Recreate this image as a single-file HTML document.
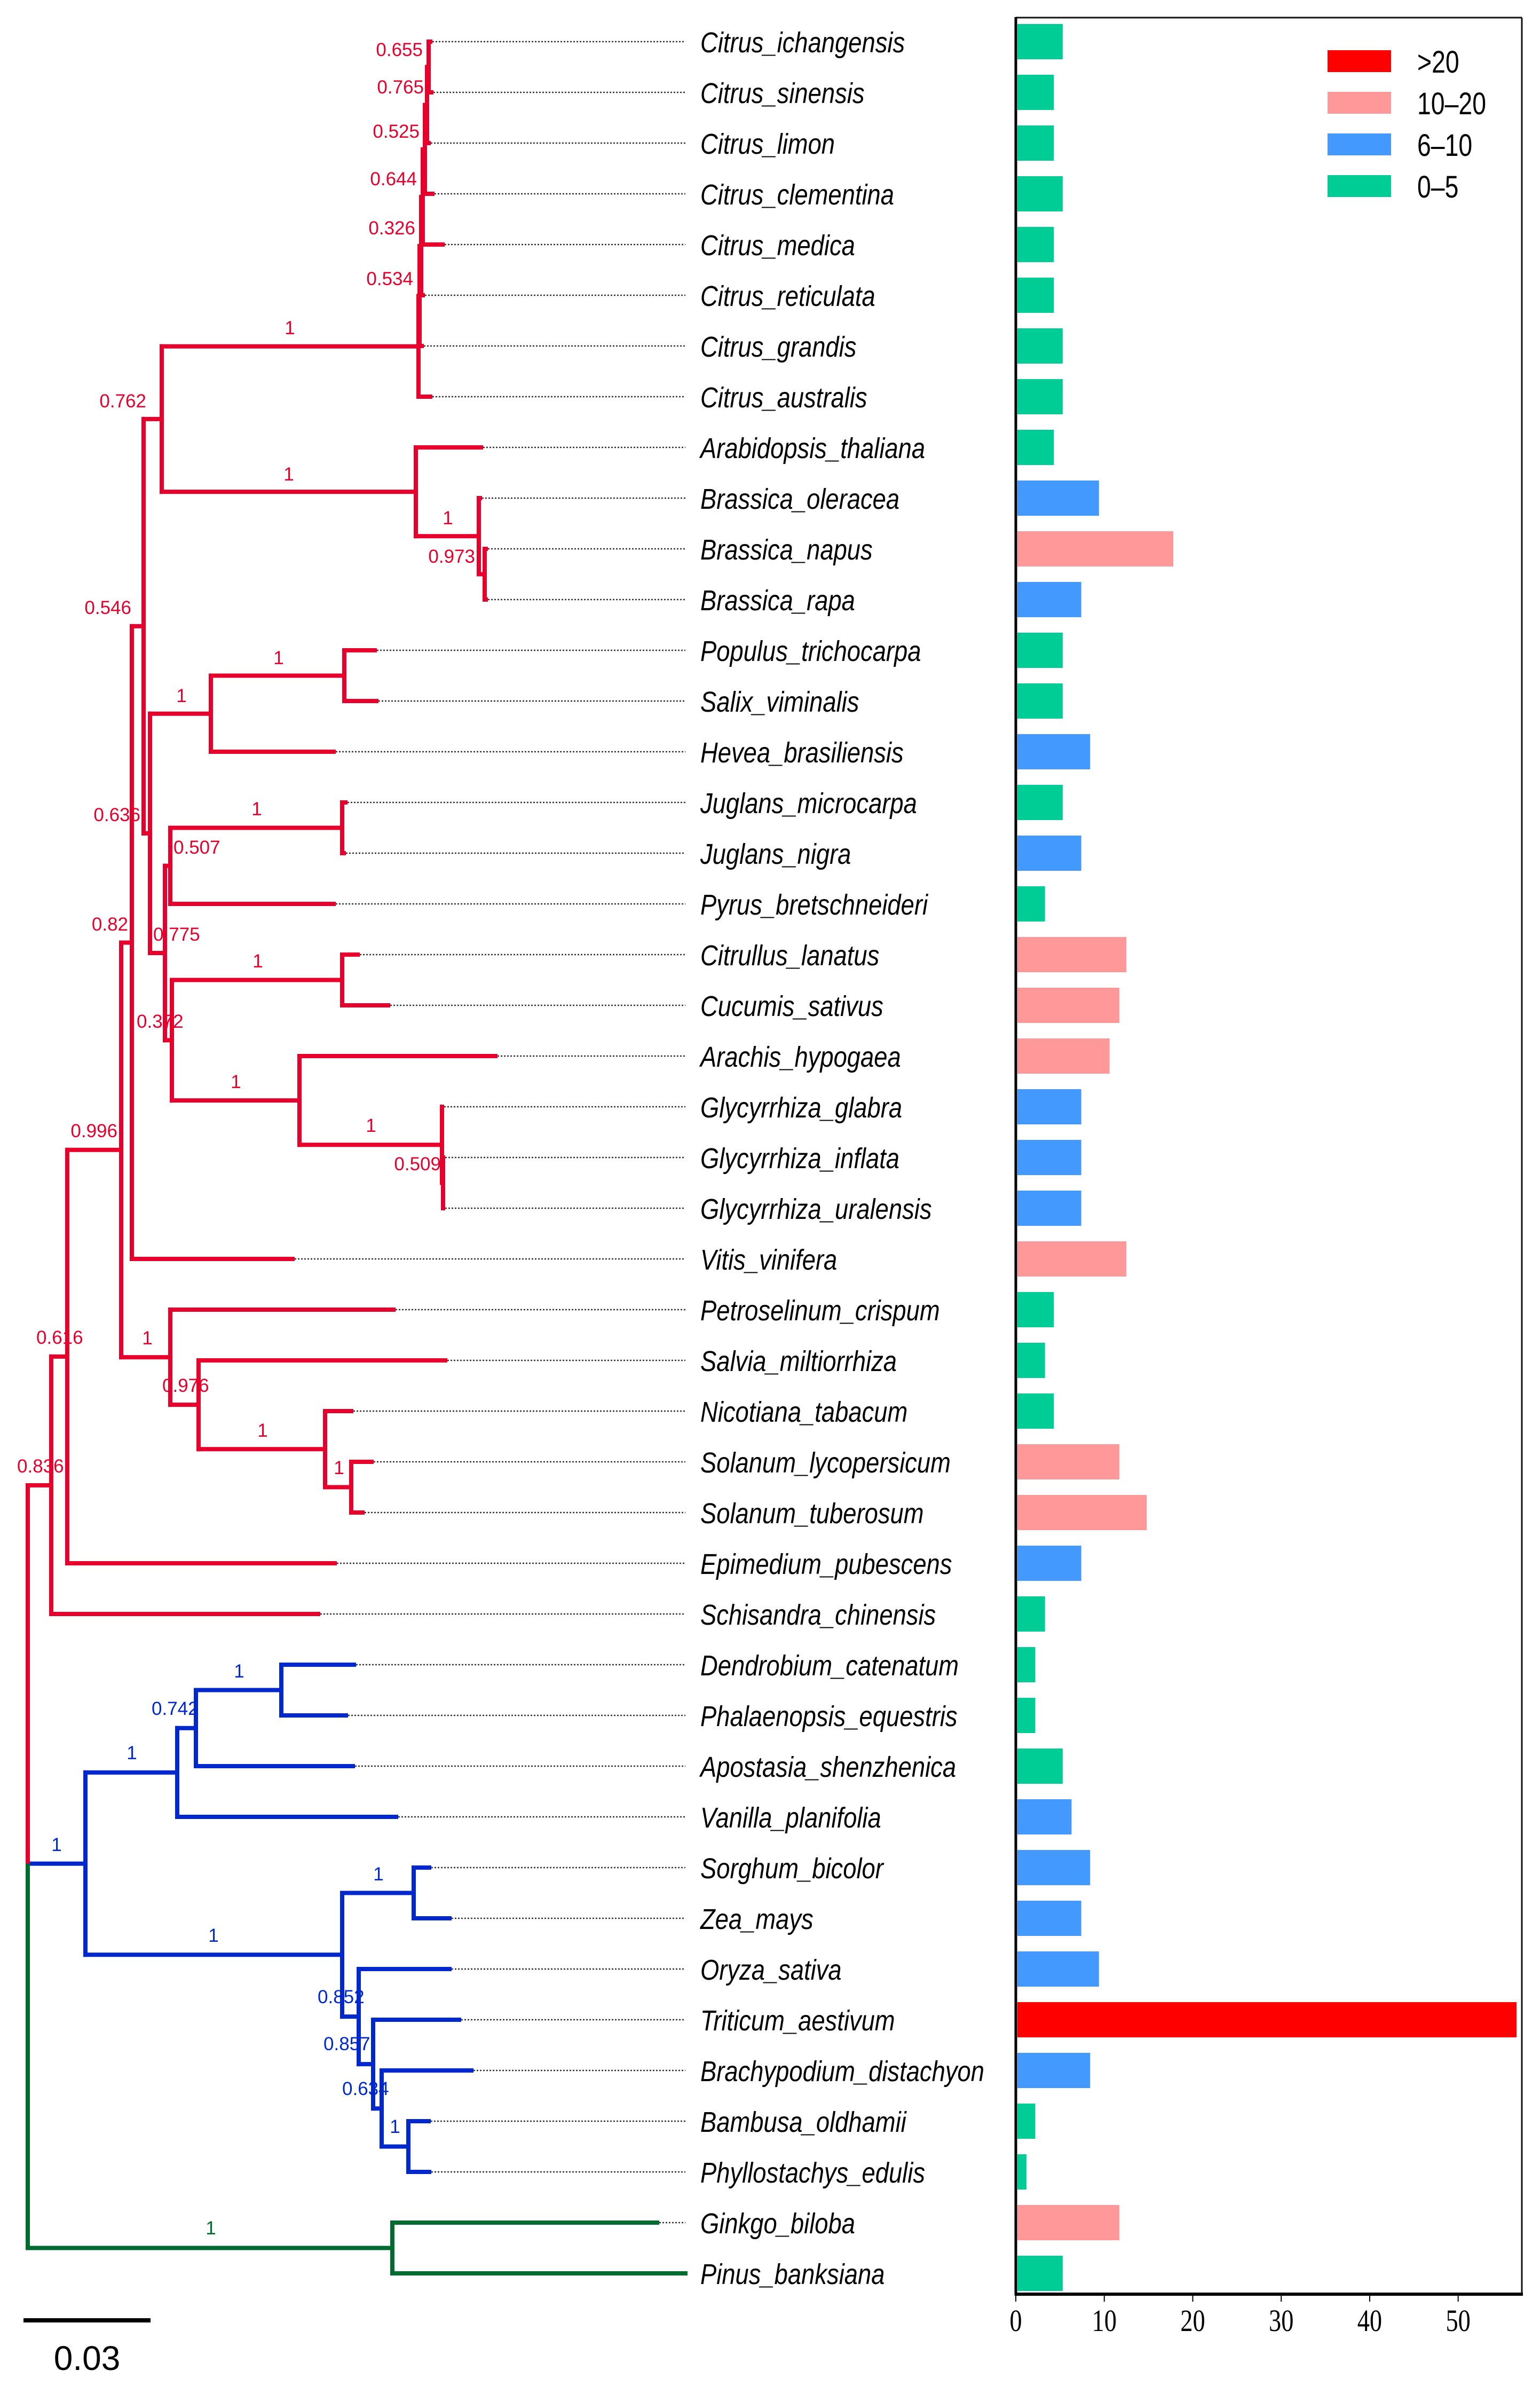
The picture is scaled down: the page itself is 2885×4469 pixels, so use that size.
<!DOCTYPE html>
<html><head><meta charset="utf-8"><title>Phylogenetic tree with bar chart</title>
<style>html,body{margin:0;padding:0;background:#fff}svg{display:block}</style></head>
<body>
<svg id="fig" xmlns="http://www.w3.org/2000/svg" width="2885" height="4469" viewBox="0 0 2885 4469">
<rect width="2885" height="4469" fill="#fff"/>
<g id="tree"></g>
<g id="dots"></g>
<g id="supports"></g>
<g id="leaves"></g>
<g id="bars"></g>
<g>
<line x1="44" y1="4346" x2="282" y2="4346" stroke="#000" stroke-width="8"/>
<text x="163" y="4439" font-family="Liberation Sans, sans-serif" font-size="64" text-anchor="middle" fill="#000">0.03</text>
</g>
<g font-family="Liberation Sans, sans-serif" font-size="58">
<g><rect x="2487" y="94" width="119" height="41" fill="#FF0000"/><text x="2655" y="136" transform="translate(2655,0) scale(0.8,1) translate(-2655,0)">&gt;20</text></g>
<g><rect x="2487" y="172" width="119" height="41" fill="#FF9999"/><text x="2655" y="214" transform="translate(2655,0) scale(0.8,1) translate(-2655,0)">10–20</text></g>
<g><rect x="2487" y="250" width="119" height="41" fill="#4499FF"/><text x="2655" y="292" transform="translate(2655,0) scale(0.8,1) translate(-2655,0)">6–10</text></g>
<g><rect x="2487" y="328" width="119" height="41" fill="#00CC96"/><text x="2655" y="370" transform="translate(2655,0) scale(0.8,1) translate(-2655,0)">0–5</text></g>
</g>
</svg>
<script>
const species = ["Citrus_ichangensis","Citrus_sinensis","Citrus_limon","Citrus_clementina","Citrus_medica","Citrus_reticulata","Citrus_grandis","Citrus_australis","Arabidopsis_thaliana","Brassica_oleracea","Brassica_napus","Brassica_rapa","Populus_trichocarpa","Salix_viminalis","Hevea_brasiliensis","Juglans_microcarpa","Juglans_nigra","Pyrus_bretschneideri","Citrullus_lanatus","Cucumis_sativus","Arachis_hypogaea","Glycyrrhiza_glabra","Glycyrrhiza_inflata","Glycyrrhiza_uralensis","Vitis_vinifera","Petroselinum_crispum","Salvia_miltiorrhiza","Nicotiana_tabacum","Solanum_lycopersicum","Solanum_tuberosum","Epimedium_pubescens","Schisandra_chinensis","Dendrobium_catenatum","Phalaenopsis_equestris","Apostasia_shenzhenica","Vanilla_planifolia","Sorghum_bicolor","Zea_mays","Oryza_sativa","Triticum_aestivum","Brachypodium_distachyon","Bambusa_oldhamii","Phyllostachys_edulis","Ginkgo_biloba","Pinus_banksiana"];
const counts = [5.3,4.3,4.3,5.3,4.3,4.3,5.3,5.3,4.3,9.4,17.8,7.4,5.3,5.3,8.4,5.3,7.4,3.3,12.5,11.7,10.6,7.4,7.4,7.4,12.5,4.3,3.3,4.3,11.7,14.8,7.4,3.3,2.2,2.2,5.3,6.3,8.4,7.4,9.4,56.6,8.4,2.2,1.2,11.7,5.3];
const xTicks = [0,10,20,30,40,50];
const xMax = 57.2;
const supportText = ["0.655","0.765","0.525","0.644","0.326","0.534","1","0.762","1","1","0.973","0.546","1","1","0.636","1","0.507","0.82","0.775","1","0.372","1","0.996","1","0.509","0.616","1","0.976","1","1","0.836","1","0.742","1","1","1","1","0.852","0.857","0.634","1","1"];
const supportX = [792,794,786,781,778,774,543,274,541,839,890,246,522,340,263,481,325,240,287,483,256,442,220,695,826,68,276,304,492,635,32,448,284,247,106,709,400,595,606,641,740,395];
const supportY = [93,163,246,335,427,522,614,751,888,970,1042,1138,1232,1303,1526,1515,1587,1731,1750,1800,1913,2026,2118,2108,2180,2505,2506,2595,2679,2749,2746,3130,3200,3283,3455,3510,3625,3740,3828,3912,3983,4173];
const supportAnchor = ["e","e","e","e","e","e","m","e","m","m","e","e","m","m","e","m","s","e","s","m","s","m","e","m","e","s","m","s","m","m","s","m","s","m","m","m","m","s","s","s","m","m"];
const supportGroup = ["r","r","r","r","r","r","r","r","r","r","r","r","r","r","r","r","r","r","r","r","r","r","r","r","r","r","r","r","r","r","r","b","b","b","b","b","b","b","b","b","b","g"];

const NS = "http://www.w3.org/2000/svg";
const COL = {r:"#E8002D", b:"#0028CC", g:"#006B2E"};
const rowY = i => 78 + 95.0 * i;
function mk(tag, attrs, parent){ const e=document.createElementNS(NS,tag); for(const k in attrs) e.setAttribute(k,attrs[k]); parent.appendChild(e); return e; }

function L(i,x){ return {leaf:i, x:x}; }
function N(x,kids){ return {x:x, kids:kids}; }
const CIT = N(784,[N(786,[N(789,[N(792,[N(796,[N(800,[N(803,[L(0,806),L(1,808)]),L(2,803)]),L(3,810)]),L(4,829)]),L(5,792)]),L(6,790)]),L(7,806)]);
const BRA = N(779,[L(8,901), N(897,[L(9,899), N(908,[L(10,910),L(11,910)])])]);
const F = N(303,[CIT,BRA]);
const PSH = N(395,[N(645,[L(12,702),L(13,705)]), L(14,625)]);
const R = N(319,[N(641,[L(15,647),L(16,644)]), L(17,625)]);
const FAB = N(561,[L(20,928), N(828,[L(21,828), N(830,[L(22,830),L(23,830)])])]);
const S = N(322,[N(641,[L(18,670),L(19,727)]), FAB]);
const G = N(281,[PSH, N(309,[R,S])]);
const E = N(269,[F,G]);
const D = N(247,[E, L(24,548)]);
const AST = N(319,[L(25,737), N(372,[L(26,834), N(609,[L(27,658), N(658,[L(28,696),L(29,679)])])])]);
const C = N(227,[D, AST]);
const B = N(126,[C, L(30,627)]);
const A = N(96,[B, L(31,596)]);
const ORC = N(332,[N(367,[N(527,[L(32,663),L(33,648)]), L(34,661)]), L(35,742)]);
const GRA = N(641,[N(775,[L(36,804),L(37,842)]), N(672,[L(38,842), N(699,[L(39,860), N(715,[L(40,883), N(765,[L(41,803),L(42,804)])])])])]);
const MON = N(160,[ORC, GRA]);
const GYM = N(735,[L(43,1231), L(44,1284)]);
const ROOT = N(52,[A, MON, GYM]);

function setY(n){ if(n.leaf!==undefined){ n.y=rowY(n.leaf); return n.y; } n.kids.forEach(setY); n.y=(n.kids[0].y+n.kids[n.kids.length-1].y)/2; return n.y; }
setY(ROOT);
const tree = document.getElementById('tree');
function draw(n, col){
  n.kids.forEach(k=>{
    const h = mk('line',{x1:n.x,y1:k.y,x2:k.x,y2:k.y,stroke:col,'stroke-width':8,'stroke-linecap':'square'},tree);
    
    
    if(k.kids) draw(k, col);
  });
  const v = mk('line',{x1:n.x,y1:n.kids[0].y,x2:n.x,y2:n.kids[n.kids.length-1].y,stroke:col,'stroke-width':8,'stroke-linecap':'square'},tree);
  
  
}
draw(A, COL.r); draw(MON, COL.b); draw(GYM, COL.g);
[[A,COL.r],[MON,COL.b],[GYM,COL.g]].forEach(([k,c])=>{
  const h = mk('line',{x1:ROOT.x,y1:k.y,x2:k.x,y2:k.y,stroke:c,'stroke-width':8,'stroke-linecap':'square'},tree);
  
  
});
let rv = mk('line',{x1:ROOT.x,y1:A.y,x2:ROOT.x,y2:MON.y,stroke:COL.r,'stroke-width':8},tree);


rv = mk('line',{x1:ROOT.x,y1:MON.y,x2:ROOT.x,y2:GYM.y,stroke:COL.g,'stroke-width':8},tree);



const dots = document.getElementById('dots'), leaves = document.getElementById('leaves');
function collect(n,arr){ if(n.leaf!==undefined) arr.push(n); else n.kids.forEach(k=>collect(k,arr)); return arr; }
collect(ROOT,[]).forEach(lf=>{
  if(lf.x < 1280){
    const d = mk('line',{x1:lf.x+4,y1:lf.y,x2:1284,y2:lf.y,stroke:'#333','stroke-width':2.5,'stroke-dasharray':'3 3'},dots);
    
    
  }
});
species.forEach((s,i)=>{
  const y = rowY(i) + 20;
  const t = mk('text',{x:1312,y:y,'font-family':'Liberation Sans, sans-serif','font-size':54,'font-style':'italic',fill:'#000',transform:`translate(1312,0) scale(0.84,1) translate(-1312,0)`},leaves);
  t.textContent = s;
  
  
});

const sup = document.getElementById('supports');
supportText.forEach((s,i)=>{
  const anchor = supportAnchor[i]==='e' ? 'end' : (supportAnchor[i]==='m' ? 'middle' : 'start');
  const t = mk('text',{x:supportX[i],y:supportY[i]+12,'font-family':'Liberation Sans, sans-serif','font-size':35,'text-anchor':anchor,fill:COL[supportGroup[i]]},sup);
  t.textContent = s;
  
  
});

const bars = document.getElementById('bars');
const X0 = 1903, X1 = 2851, TOP = 33, BOT = 4297;
const xs = v => X0 + (X1 - X0) * v / xMax;
function colorFor(v){ return v > 20 ? '#FF0000' : v >= 10 ? '#FF9999' : v >= 6 ? '#4499FF' : '#00CC96'; }
counts.forEach((v,i)=>{
  const r = mk('rect',{x:X0+3,y:rowY(i)-33,width:Math.max(0,xs(v)-X0-3),height:66,fill:colorFor(v)},bars);
  
  
});
let fr = mk('line',{x1:X0,y1:TOP,x2:X1,y2:TOP,stroke:'#111','stroke-width':3},bars);


fr = mk('line',{x1:X1,y1:TOP,x2:X1,y2:BOT,stroke:'#111','stroke-width':3},bars);


fr = mk('line',{x1:X0,y1:TOP-1,x2:X0,y2:BOT+2,stroke:'#000','stroke-width':5},bars);


fr = mk('line',{x1:X0-2,y1:BOT,x2:X1+2,y2:BOT,stroke:'#000','stroke-width':6},bars);


xTicks.forEach(t=>{
  const tk = mk('line',{x1:xs(t),y1:BOT,x2:xs(t),y2:BOT+14,stroke:'#000','stroke-width':2},bars);
  
  
  const tl = mk('text',{x:xs(t),y:4366,'font-family':'Liberation Serif, serif','font-size':58,'text-anchor':'middle',fill:'#000',transform:`translate(${xs(t)},0) scale(0.8,1) translate(${-xs(t)},0)`},bars);
  tl.textContent = String(t);
  
  
});
</script>
</body></html>
